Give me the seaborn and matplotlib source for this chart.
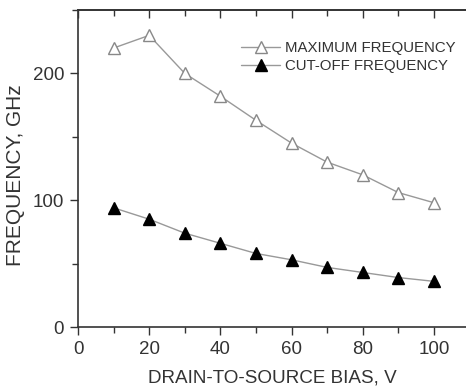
import matplotlib
matplotlib.use("Agg")
import matplotlib.pyplot as plt
import seaborn as sns
import pandas as pd
from matplotlib.ticker import MultipleLocator

bias = [10, 20, 30, 40, 50, 60, 70, 80, 90, 100]
f_max = [220, 230, 200, 182, 163, 145, 130, 120, 106, 98]
f_t = [94, 85, 74, 66, 58, 53, 47, 43, 39, 36]
labels = ["MAXIMUM FREQUENCY", "CUT-OFF FREQUENCY"]

sns.set_style("ticks")
plt.rcParams['font.family'] = ['Liberation Sans', 'DejaVu Sans']

fig = plt.figure(figsize=(4.66, 3.90), dpi=100)
ax = fig.add_axes([78/466, 1-327/390, 1-78/466, (327-10)/390])

df1 = pd.DataFrame({"x": bias, "y": f_max})
df2 = pd.DataFrame({"x": bias, "y": f_t})
sns.lineplot(data=df1, x="x", y="y", ax=ax, color="#999999", lw=1.0,
             marker="^", markersize=9, markerfacecolor="white",
             markeredgecolor="#888888", markeredgewidth=1.0, label=labels[0])
sns.lineplot(data=df2, x="x", y="y", ax=ax, color="#999999", lw=1.0,
             marker="^", markersize=9, markerfacecolor="black",
             markeredgecolor="black", markeredgewidth=1.0, label=labels[1])

ax.set_xlim(0, 109)
ax.set_ylim(0, 250)
ax.xaxis.set_major_locator(MultipleLocator(20))
ax.xaxis.set_minor_locator(MultipleLocator(10))
ax.yaxis.set_major_locator(MultipleLocator(100))
ax.yaxis.set_minor_locator(MultipleLocator(50))
ax.spines['right'].set_visible(False)
for s in ['left', 'bottom', 'top']:
    ax.spines[s].set_color('#333333')
    ax.spines[s].set_linewidth(1.2)
ax.tick_params(axis='both', which='major', length=6, width=1.0, labelsize=13.5,
               colors='#333333', labelcolor='#333333', pad=4)
ax.tick_params(axis='both', which='minor', length=4, width=1.0, colors='#333333')
ax.tick_params(axis='x', which='both', top=False, direction='out')

# top ticks pointing inward
sec = ax.secondary_xaxis('top')
sec.xaxis.set_major_locator(MultipleLocator(20))
sec.xaxis.set_minor_locator(MultipleLocator(10))
sec.tick_params(axis='x', which='major', direction='in', length=6, width=1.0, labeltop=False, colors='#333333')
sec.tick_params(axis='x', which='minor', direction='in', length=4, width=1.0, colors='#333333')
sec.spines['top'].set_color('#333333')
sec.spines['top'].set_linewidth(1.2)

ax.set_xlabel("DRAIN-TO-SOURCE BIAS, V", fontsize=13.6, color='#333333')
ax.set_ylabel("FREQUENCY, GHz", fontsize=15, color='#333333')
ax.xaxis.set_label_coords(0.5, -0.135)
ax.yaxis.set_label_coords(-0.137, 0.48)

leg = ax.legend(loc='upper right', bbox_to_anchor=(1.0, 0.935), frameon=False,
                fontsize=10.8, handlelength=2.6, handletextpad=0.3,
                labelspacing=0.25, borderaxespad=0.3)
for t in leg.get_texts():
    t.set_color('#333333')

fig.savefig("out.png", dpi=100)
